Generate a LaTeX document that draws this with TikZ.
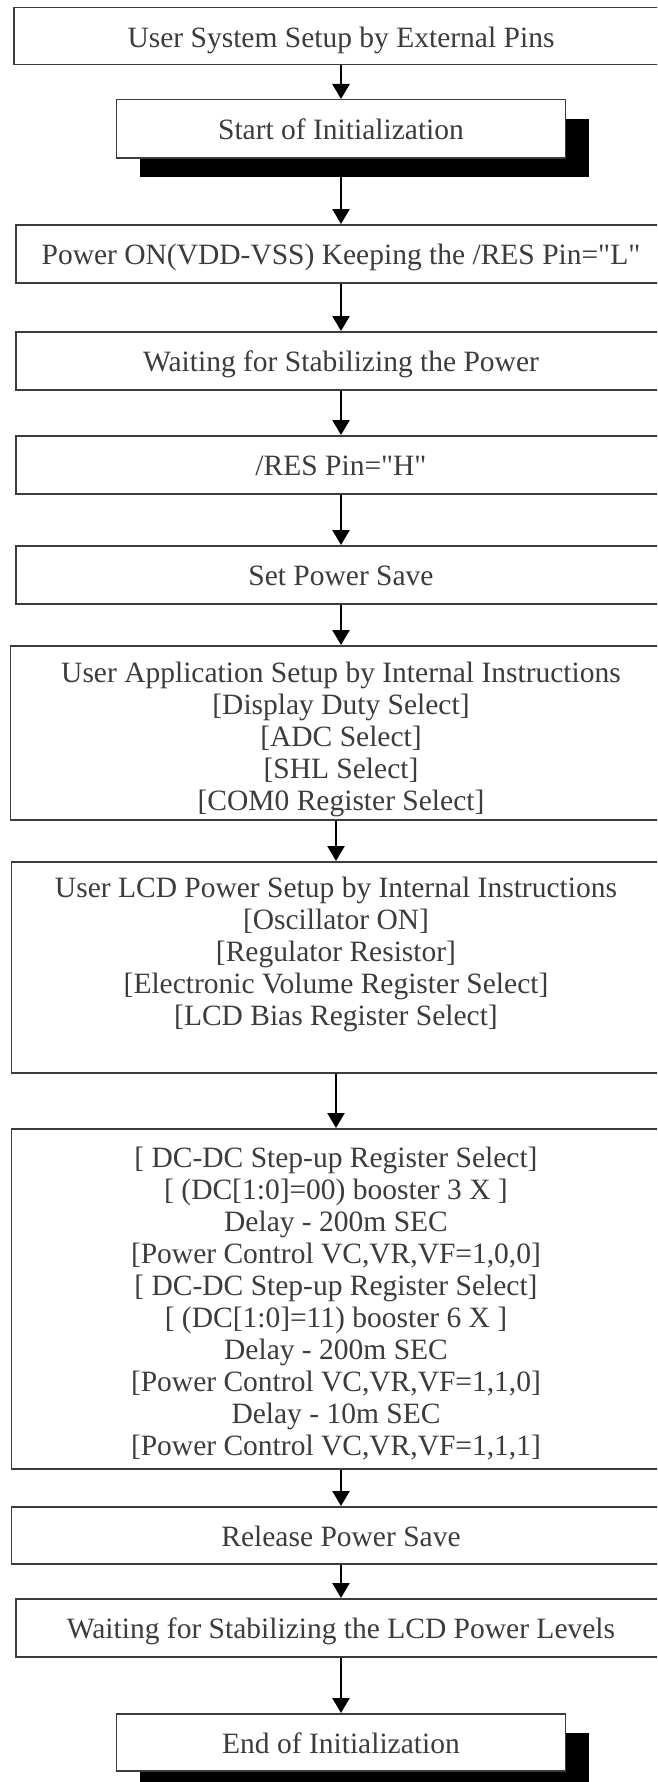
\documentclass[tikz,border=0pt]{standalone}
\usepackage{fontspec}
\setmainfont{Liberation Serif}
\usepackage{tikz}
\usetikzlibrary{arrows.meta,positioning,shadows}
\definecolor{flowgray}{RGB}{60,60,60}

\begin{document}
\begin{tikzpicture}[
    x=1pt, y=-1pt,
    stepbox/.style={rectangle, draw=flowgray, line width=1.5pt, fill=white, text=flowgray, align=center, anchor=north, inner sep=0pt, minimum width=#1, font=\fontsize{29.5pt}{32pt}\selectfont},
    oneline/.style={minimum height=#1, text height=24pt, text depth=2pt},
    shadowed/.style={drop shadow={shadow xshift=23pt, shadow yshift=-19pt, fill=black, opacity=1}},
    arrow/.style={-{Triangle[width=17pt,length=15pt]}, line width=2.5pt, black}
]
\useasboundingbox (0,0) rectangle (657,1782);
\clip (0,0) rectangle (657,1782);

% Power-on steps
\node[stepbox=654pt, oneline=57pt] (sysset) at (341,7) {User System Setup by External Pins};
\node[stepbox=449pt, oneline=58pt, shadowed] (start) at (341,99) {Start of Initialization};
\node[stepbox=650pt, oneline=58pt] (poweron) at (341,224) {Power ON(VDD-VSS) Keeping the /RES Pin=\textquotedbl L\textquotedbl};
\node[stepbox=650pt, oneline=58pt] (waitpwr) at (341,331) {Waiting for Stabilizing the Power};
\node[stepbox=650pt, oneline=58pt] (respin) at (341,435) {/RES Pin=\textquotedbl H\textquotedbl};
\node[stepbox=650pt, oneline=58pt] (pwrsave) at (341,545) {Set Power Save};

% Instruction blocks
\node[stepbox=661pt, minimum height=174pt, text height=165pt, text depth=9pt] (appsetup) at (341,645) {
    User Application Setup by Internal Instructions\\{}[Display Duty Select]\\{}[ADC Select]\\{}[SHL Select]\\{}[COM0 Register Select]
};
\node[stepbox=649pt, minimum height=211pt, text height=164pt, text depth=47pt] (lcdsetup) at (336,861) {
    User LCD Power Setup by Internal Instructions\\{}[Oscillator ON]\\{}[Regulator Resistor]\\{}[Electronic Volume Register Select]\\{}[LCD Bias Register Select]
};
\node[stepbox=649pt, minimum height=340pt, text height=327pt, text depth=13pt] (dcdc) at (336,1128) {
    [ DC-DC Step-up Register Select]\\{}[ (DC[1:0]=00) booster 3 X ]\\Delay - 200m SEC\\{}[Power Control VC,VR,VF=1,0,0]\\
    {}[ DC-DC Step-up Register Select]\\{}[ (DC[1:0]=11) booster 6 X ]\\Delay - 200m SEC\\{}[Power Control VC,VR,VF=1,1,0]\\
    Delay - 10m SEC\\{}[Power Control VC,VR,VF=1,1,1]
};

% Final steps
\node[stepbox=659pt, oneline=57pt] (release) at (341,1506) {Release Power Save};
\node[stepbox=650pt, oneline=58pt] (waitlcd) at (341,1598) {Waiting for Stabilizing the LCD Power Levels};
\node[stepbox=449pt, oneline=57pt, shadowed] (finish) at (341,1713) {End of Initialization};

% Flow
\draw[arrow] (sysset) -- (start);
\draw[arrow] (start) -- (poweron);
\draw[arrow] (poweron) -- (waitpwr);
\draw[arrow] (waitpwr) -- (respin);
\draw[arrow] (respin) -- (pwrsave);
\draw[arrow] (pwrsave) -- (appsetup);
\draw[arrow] (appsetup.south -| lcdsetup.north) -- (lcdsetup.north);
\draw[arrow] (lcdsetup) -- (dcdc);
\draw[arrow] (dcdc.south -| release.north) -- (release.north);
\draw[arrow] (release) -- (waitlcd);
\draw[arrow] (waitlcd) -- (finish);

\end{tikzpicture}
\end{document}
